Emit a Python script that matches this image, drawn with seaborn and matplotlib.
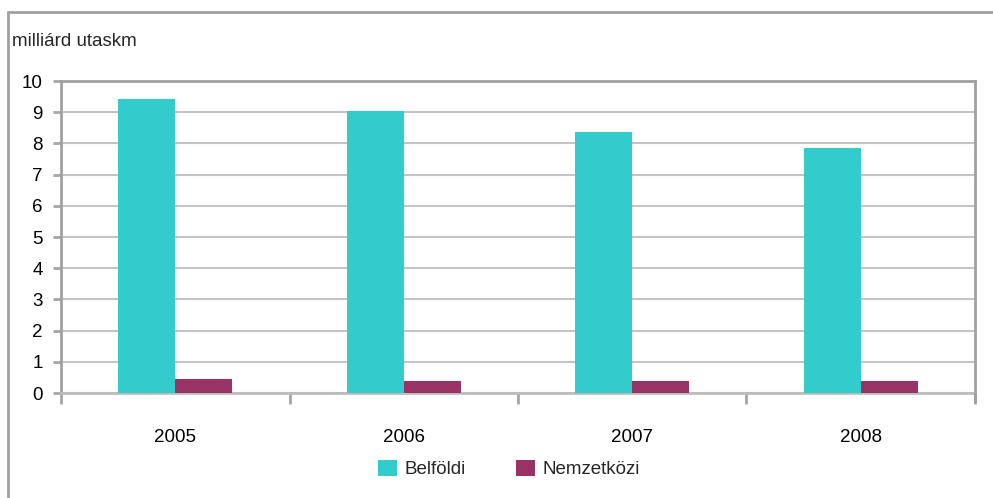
import matplotlib
matplotlib.use("Agg")
import matplotlib.pyplot as plt
from matplotlib.lines import Line2D
from matplotlib.patches import Patch
import seaborn as sns
import pandas as pd
import numpy as np

years = ["2005", "2006", "2007", "2008"]
belfoldi = [9.42, 9.04, 8.37, 7.85]
nemzetkozi = [0.45, 0.39, 0.39, 0.39]
series_names = ["Belföldi", "Nemzetközi"]
colors = ["#33CCCC", "#993366"]
y_ticks = list(range(0, 11))

df = pd.DataFrame({
    "year": years * 2,
    "value": belfoldi + nemzetkozi,
    "series": [series_names[0]] * 4 + [series_names[1]] * 4,
})

sns.set_theme(style="white")
plt.rcParams["font.family"] = ["Liberation Sans", "DejaVu Sans"]

fig = plt.figure(figsize=(9.93, 4.98), dpi=100)
ax = fig.add_axes([61/993, 1 - 393/498, (975-61)/993, (393-81)/498])

sns.barplot(data=df, x="year", y="value", hue="series", order=years,
            hue_order=series_names, palette=colors, width=0.5,
            saturation=1, ax=ax, legend=False, linewidth=0, zorder=3)

ax.set_xlim(-0.5, 3.5)
ax.set_ylim(0, 10)
ax.set_yticks(y_ticks)
ax.set_yticklabels([str(t) for t in y_ticks], fontsize=13.5)
ax.yaxis.grid(True, color="#C4C4C4", linewidth=1.5, zorder=0)
ax.xaxis.grid(False)
ax.set_axisbelow(True)
ax.set_xlabel("")
ax.set_ylabel("")

ax.set_xticks(range(len(years)))
ax.set_xticklabels(years, fontsize=13.5)
ax.set_xticks(np.arange(-0.5, 4.0, 1.0), minor=True)
ax.tick_params(axis="x", which="major", length=0, pad=26, colors="black")
ax.tick_params(axis="x", which="minor", length=8, width=2, color="#A6A6A6", direction="out", bottom=True)
ax.tick_params(axis="y", which="major", length=6, width=2, direction="out", left=True, pad=7)
ax.tick_params(axis="y", labelcolor="black", color="#A6A6A6")

for side in ["top", "right", "left"]:
    ax.spines[side].set_color("#A0A0A0")
    ax.spines[side].set_linewidth(2)
    ax.spines[side].set_visible(True)
ax.spines["bottom"].set_color("#BDBDBD")
ax.spines["bottom"].set_linewidth(2)
ax.spines["bottom"].set_visible(True)

# extend right border down like the reference
fig.add_artist(Line2D([975/993, 975/993], [1 - 402/498, 1 - 393/498], color="#A0A0A0", linewidth=2))

# outer frame (left and top)
fig.add_artist(Line2D([8/993, 8/993], [0, 1 - 12/498], color="#A0A0A0", linewidth=2))
fig.add_artist(Line2D([8/993, 1], [1 - 12/498, 1 - 12/498], color="#A0A0A0", linewidth=2))

fig.text(12/993, 1 - 42/498, "milliárd utaskm", fontsize=13.5, va="center", ha="left")

handles = [Patch(facecolor=c, edgecolor="none") for c in colors]
fig.legend(handles, series_names, loc="center", bbox_to_anchor=(509/993, 1 - 469/498),
           ncol=2, frameon=False, fontsize=13.5, handlelength=1.0, handleheight=1.0,
           handletextpad=0.4, columnspacing=2.7)

fig.savefig("out.png", dpi=100, facecolor="white")
